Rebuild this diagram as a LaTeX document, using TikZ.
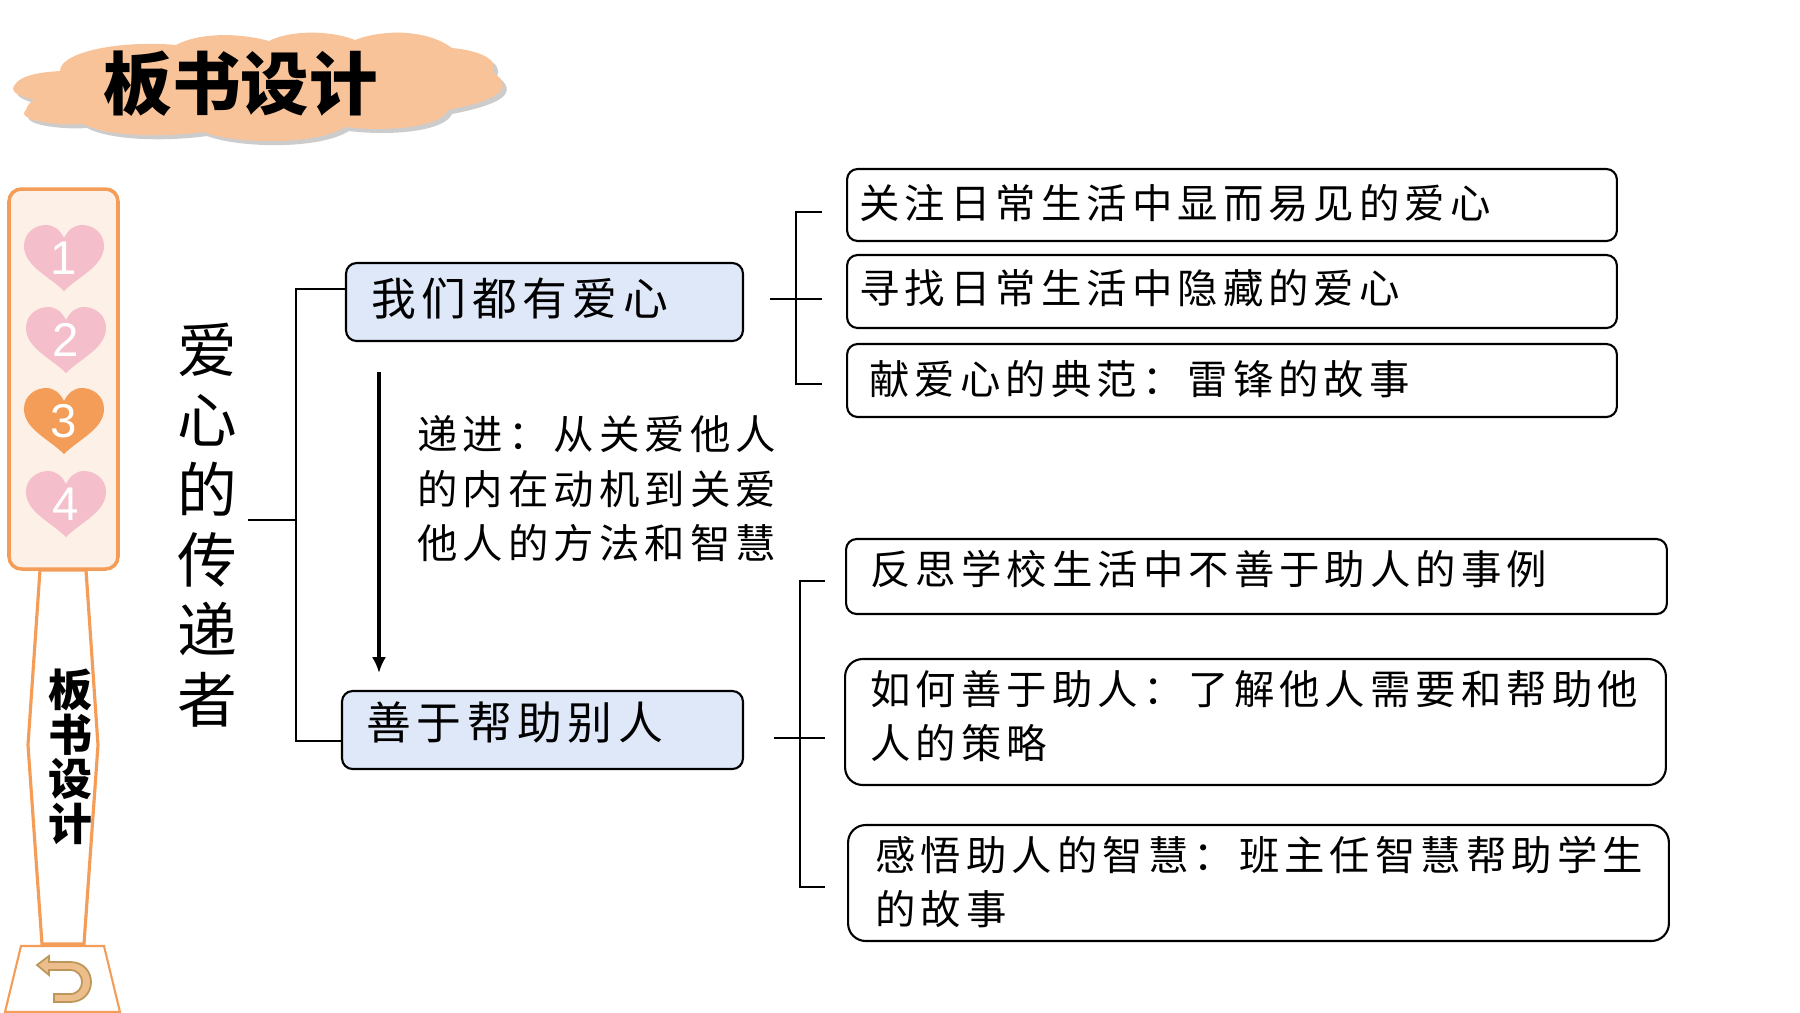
\documentclass[tikz,border=0pt]{standalone}
\usepackage{fontspec}
\setmainfont{Liberation Sans}
\newfontfamily\cjk[LetterSpace=12.5]{Noto Sans CJK SC}
\newfontfamily\cjkplain{Noto Sans CJK SC}
\usetikzlibrary{arrows.meta}
\definecolor{cloudfill}{RGB}{249,195,153}
\definecolor{barline}{RGB}{244,157,88}
\definecolor{barfill}{RGB}{253,240,231}
\definecolor{heartpink}{RGB}{244,190,203}
\definecolor{boxblue}{RGB}{222,232,248}
\definecolor{backfill}{RGB}{235,190,140}
\definecolor{backline}{RGB}{190,150,90}
\tikzset{
  topicbox/.style 2 args={draw=black,line width=1.2pt,rounded corners=6pt,fill=boxblue,minimum width=#1,minimum height=#2,inner sep=0pt},
  itembox/.style 2 args={draw=black,line width=1.2pt,rounded corners=6pt,fill=white,minimum width=#1,minimum height=#2,inner sep=0pt},
  conn/.style={line width=1.2pt},
  boxtext/.style={anchor=west,inner sep=0pt,align=left,font=\cjk\fontsize{23}{31}\selectfont},
  topictext/.style={anchor=west,inner sep=0pt,font=\cjk\fontsize{25.5}{31}\selectfont},
  heartnum/.style={text=white,inner sep=0pt,font=\fontsize{27}{27}\selectfont},
  heart/.pic={\fill (0,33) .. controls (-15,18) and (-40,8) .. (-40,-12) .. controls (-40,-26) and (-28,-33) .. (-18,-33)
    .. controls (-10,-33) and (-4,-28) .. (0,-20) .. controls (4,-28) and (10,-33) .. (18,-33)
    .. controls (28,-33) and (40,-26) .. (40,-12) .. controls (40,8) and (15,18) .. (0,33) -- cycle;}
}
\begin{document}
\begin{tikzpicture}[x=0.02cm,y=-0.02cm]
  \useasboundingbox (0,0) rectangle (1800,1012);
  % cloud
  \foreach \dx/\col/\op in {4/black/0.2,0/cloudfill/1} {
    \fill[\col,opacity=\op,shift={(\dx,\dx)}] (14,86) .. controls (20,74) and (45,72) .. (60,71)
      .. controls (60,52) and (120,40) .. (176,45) .. controls (200,32) and (240,33) .. (269,41)
      .. controls (290,30) and (330,30) .. (355,40) .. controls (380,30) and (425,28) .. (452,48)
      .. controls (475,50) and (500,58) .. (493,72) .. controls (515,88) and (500,100) .. (448,110)
      .. controls (440,128) and (385,132) .. (345,127) .. controls (315,146) and (235,144) .. (203,132)
      .. controls (160,138) and (105,136) .. (83,124) .. controls (55,126) and (15,120) .. (26,110)
      .. controls (28,104) and (30,102) .. (35,100) .. controls (20,97) and (10,92) .. (14,86) -- cycle;
  }
  \node[inner sep=0pt,font=\cjkplain\fontsize{39}{39}\selectfont\bfseries] (title) at (241,84) {板书设计};
  % side bar
  \draw[barline,line width=1.8pt,fill=white] (40,570) -- (28,745) -- (42,944) -- (84,944) -- (98,745) -- (86,570) -- cycle;
  \draw[barline,line width=1.2pt,fill=white] (21,946) -- (104,946) -- (120,1012) -- (5,1012) -- cycle;
  \draw[barline,line width=2pt,fill=barfill,rounded corners=7pt] (9,189) rectangle (118,569);
  \foreach \yy/\col/\num/\xx in {258/heartpink/1/64,340/heartpink/2/66,421/barline/3/64,504/heartpink/4/66} {
    \pic[\col] at (\xx,\yy) {heart};
    \node[heartnum] (num\num) at (\xx,\yy) {\num};
  }
  \node[inner sep=0pt,align=center,font=\cjkplain\fontsize{25}{25.4}\selectfont\bfseries] (vert) at (70,757) {板\\书\\设\\计};
  \draw[backline,line width=1pt,fill=backfill] (37,965) -- (49,956) -- (49,962) -- (70,962) .. controls (98,962) and (98,1002) .. (70,1002)
    -- (54,1002) -- (54,994) -- (70,994) .. controls (86,994) and (86,970) .. (70,970) -- (49,970) -- (49,975) -- cycle;
  % root
  \node[inner sep=0pt,align=center,font=\cjkplain\fontsize{34}{39.8}\selectfont] (root) at (207,525) {爱\\心\\的\\传\\递\\者};
  % topics
  \node[topicbox={7.94cm}{1.56cm}] (lovebox) at (544.5,302) {};
  \node[topicbox={8.02cm}{1.56cm}] (helpbox) at (542.5,730) {};
  \node[topictext] (lovetext) at (371,299) {我们都有爱心};
  \node[topictext] (helptext) at (366,723) {善于帮助别人};
  % items
  \node[itembox={15.4cm}{1.44cm}] (abox) at (1232,205) {};
  \node[itembox={15.4cm}{1.46cm}] (bbox) at (1232,291.5) {};
  \node[itembox={15.4cm}{1.46cm}] (cbox) at (1232,380.5) {};
  \node[itembox={16.42cm}{1.5cm}] (dbox) at (1256.5,576.5) {};
  \node[itembox={16.42cm}{2.52cm},rounded corners=10pt] (ebox) at (1255.5,722) {};
  \node[itembox={16.42cm}{2.32cm},rounded corners=10pt] (fbox) at (1258.5,883) {};
  \node[boxtext] (atext) at (859,203) {关注日常生活中显而易见的爱心};
  \node[boxtext] (btext) at (859,288) {寻找日常生活中隐藏的爱心};
  \node[boxtext] (ctext) at (869,379) {献爱心的典范：雷锋的故事};
  \node[boxtext] (dtext) at (870,569) {反思学校生活中不善于助人的事例};
  \node[boxtext] (etext) at (870,716) {如何善于助人：了解他人需要和帮助他\\人的策略};
  \node[boxtext] (ftext) at (875,882) {感悟助人的智慧：班主任智慧帮助学生\\的故事};
  \node[boxtext] (note) at (417,489) {递进：从关爱他人\\的内在动机到关爱\\他人的方法和智慧};
  % connectors
  \coordinate (rootr) at (248,520);
  \coordinate (rootj) at (296,520);
  \coordinate (lovel) at (346,289);
  \coordinate (helpl) at (342,741);
  \draw[conn] (rootr) -- (rootj);
  \draw[conn] (lovel) -- (296,289) -- (296,741) -- (helpl);
  \coordinate (lovej) at (770,299);
  \coordinate (aj) at (822,212);
  \coordinate (bj) at (822,299);
  \coordinate (cj) at (822,384);
  \draw[conn] (aj) -- (796,212) -- (796,384) -- (cj);
  \draw[conn] (lovej) -- (bj);
  \coordinate (helpj) at (774,738);
  \coordinate (dj) at (825,581);
  \coordinate (ej) at (825,738);
  \coordinate (fj) at (825,887);
  \draw[conn] (dj) -- (800,581) -- (800,887) -- (fj);
  \draw[conn] (helpj) -- (ej);
  \coordinate (arrs) at (379,372);
  \coordinate (arre) at (379,673);
  \draw[-{Latex[length=9pt,width=8pt]},line width=1.8pt] (arrs) -- (arre);
\end{tikzpicture}
\end{document}
